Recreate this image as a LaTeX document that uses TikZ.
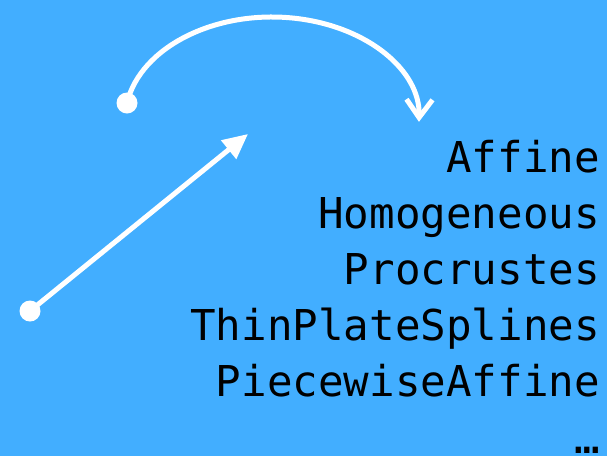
\documentclass[tikz,border=0pt]{standalone}
\usepackage{fontspec}
\usetikzlibrary{arrows.meta}
\newfontfamily\monofont{DejaVu Sans Mono}
\definecolor{skyblue}{HTML}{42AEFF}
\begin{document}
\begin{tikzpicture}[x=1pt,y=-1pt,
  dotnode/.style={circle,fill=white,minimum size=21pt,inner sep=0pt},
  curvearrow/.style={white,line width=5pt,-{Straight Barb[length=18pt,width=26pt,line width=5pt]}},
  straightarrow/.style={white,line width=5pt,-{Triangle[length=25pt,width=23pt]}},
  method/.style={anchor=base east,inner sep=0pt,font=\monofont\fontsize{42.5}{50}\selectfont}]
  % background
  \fill[skyblue] (0,0) rectangle (607,456);
  \useasboundingbox (0,0) rectangle (607,456);

  % start points
  \node[dotnode] (top) at (127,103) {};
  \node[dotnode] (bottom) at (30,311) {};
  \coordinate (tip) at (248,134);

  % curved arrow over the top
  \draw[curvearrow] (top.center) arc[start angle=170.5, end angle=-1, x radius=147pt, y radius=103pt];

  % straight arrow
  \draw[straightarrow] (bottom.center) -- (tip);

  % list of transforms
  \node[method] (affine) at (600,172.5) {Affine};
  \node[method] (homog) at (600,228.5) {Homogeneous};
  \node[method] (procr) at (600,284.5) {Procrustes};
  \node[method] (tps) at (600,340.5) {ThinPlateSplines};
  \node[method] (pwa) at (600,396.5) {PiecewiseAffine};
  \node[method,text depth=0pt,text height=8pt] (more) at (600,453) {…};
\end{tikzpicture}
\end{document}
